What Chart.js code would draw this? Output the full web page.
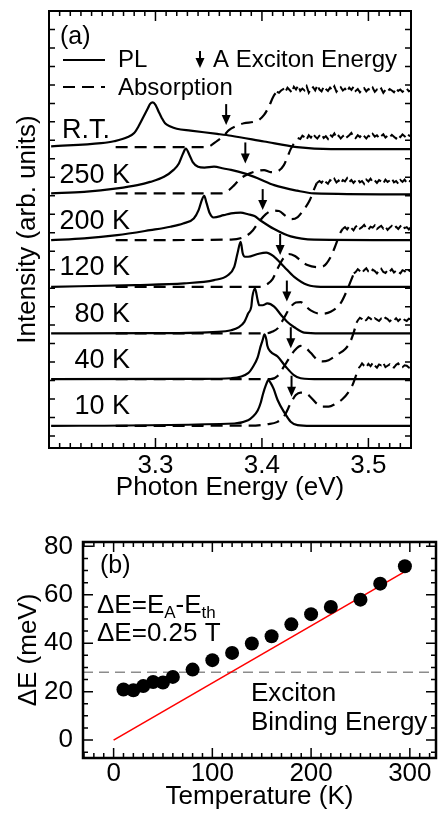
<!DOCTYPE html>
<html>
<head>
<meta charset="utf-8">
<script src="https://cdn.jsdelivr.net/npm/chart.js@4.4.0/dist/chart.umd.min.js"></script>
<style>
  html, body { margin: 0; padding: 0; background: #fff; }
  #wrapA { position: absolute; left: 0; top: 0; width: 443px; height: 510px; }
  #wrapB { position: absolute; left: 0; top: 510px; width: 443px; height: 304px; }
</style>
</head>
<body>
<div id="wrapA"><canvas id="chartA" width="443" height="510"></canvas></div>
<div id="wrapB"><canvas id="chartB" width="443" height="304"></canvas></div>
<script>
// ---------- panel (a): spectra, [photon energy (eV), intensity above its own baseline] ----------
const tempLabels = ['10 K', '40 K', '80 K', '120 K', '200 K', '250 K', 'R.T.'];
const offsets = [0.22, 1.23, 2.22, 3.23, 4.24, 5.23, 6.21];

const pl10 = [[3.202,0],[3.374,0.05],[3.387,0.12],[3.3916,0.2],[3.396,0.33],[3.399,0.51],[3.401,0.69],[3.4037,0.88],[3.406,0.99],[3.4084,0.92],[3.411,0.8],[3.4147,0.56],[3.421,0.29],[3.427,0.09],[3.4334,0.015],[3.446,0],[3.54,0]];
const pl40 = [[3.202,0],[3.343,0.006],[3.371,0.02],[3.387,0.13],[3.3916,0.27],[3.396,0.47],[3.3986,0.7],[3.4007,0.85],[3.4024,0.97],[3.4042,0.85],[3.405,0.73],[3.408,0.6],[3.4147,0.49],[3.4224,0.27],[3.43,0.09],[3.4364,0.02],[3.455,0],[3.54,0]];
const pl80 = [[3.202,0],[3.296,0.006],[3.3586,0.035],[3.371,0.07],[3.378,0.13],[3.3835,0.25],[3.387,0.43],[3.39,0.58],[3.391,0.79],[3.3935,0.97],[3.396,0.72],[3.3975,0.61],[3.4007,0.61],[3.405,0.65],[3.4115,0.58],[3.418,0.4],[3.4234,0.26],[3.43,0.14],[3.4395,0.017],[3.455,0],[3.54,0]];
const pl120 = [[3.202,0],[3.281,0.037],[3.327,0.074],[3.355,0.145],[3.368,0.25],[3.374,0.43],[3.377,0.72],[3.38,0.97],[3.382,0.72],[3.384,0.65],[3.387,0.65],[3.396,0.71],[3.404,0.74],[3.4115,0.65],[3.421,0.43],[3.43,0.22],[3.443,0.037],[3.455,0],[3.54,0]];
const pl200 = [[3.202,0],[3.233,0.037],[3.264,0.108],[3.295,0.216],[3.314,0.29],[3.326,0.36],[3.336,0.47],[3.3405,0.65],[3.3436,0.87],[3.3458,0.96],[3.348,0.8],[3.351,0.58],[3.3545,0.49],[3.364,0.54],[3.371,0.58],[3.38,0.595],[3.387,0.56],[3.393,0.52],[3.399,0.42],[3.4115,0.24],[3.427,0.08],[3.449,0.01],[3.54,0]];
const pl250 = [[3.202,0.022],[3.233,0.056],[3.264,0.13],[3.283,0.2],[3.295,0.27],[3.308,0.38],[3.317,0.53],[3.322,0.67],[3.326,0.89],[3.3285,0.99],[3.332,0.85],[3.335,0.7],[3.34,0.6],[3.346,0.58],[3.355,0.6],[3.364,0.56],[3.371,0.53],[3.3835,0.455],[3.396,0.35],[3.4115,0.2],[3.433,0.08],[3.449,0.022],[3.54,0]];
const plRT = [[3.202,0.06],[3.249,0.13],[3.261,0.17],[3.274,0.26],[3.28,0.35],[3.284,0.49],[3.289,0.71],[3.293,0.89],[3.295,0.98],[3.2975,1.01],[3.3,0.96],[3.303,0.81],[3.306,0.67],[3.309,0.56],[3.314,0.49],[3.32,0.44],[3.333,0.4],[3.358,0.33],[3.371,0.29],[3.402,0.165],[3.433,0.043],[3.465,0],[3.54,0]];

const abs10 = [[3.2626,0],[3.3897,0.004],[3.4053,0.037],[3.414,0.08],[3.4208,0.21],[3.4271,0.49],[3.4318,0.665],[3.4364,0.72],[3.441,0.71],[3.4458,0.62],[3.452,0.47],[3.457,0.416],[3.4626,0.416],[3.4692,0.48],[3.4757,0.58],[3.4813,0.73],[3.485,0.88],[3.4888,1.12],[3.4907,1.25]];
const abs40 = [[3.2626,0],[3.408,0],[3.4147,0.07],[3.4206,0.27],[3.4252,0.44],[3.431,0.63],[3.4364,0.72],[3.441,0.68],[3.4458,0.57],[3.452,0.42],[3.457,0.385],[3.4626,0.41],[3.4707,0.53],[3.4785,0.66],[3.483,0.81],[3.4863,1.02],[3.4888,1.22]];
const abs80 = [[3.2626,0],[3.4037,0],[3.41,0.04],[3.415,0.115],[3.4206,0.33],[3.4262,0.55],[3.4318,0.67],[3.4364,0.68],[3.441,0.59],[3.4458,0.5],[3.455,0.424],[3.4645,0.47],[3.4738,0.65],[3.48,0.94],[3.483,1.11],[3.4863,1.3]];
const abs120 = [[3.2626,0],[3.399,0],[3.405,0.058],[3.41,0.167],[3.415,0.405],[3.4196,0.6],[3.4252,0.71],[3.431,0.665],[3.4364,0.567],[3.4427,0.47],[3.452,0.426],[3.458,0.448],[3.4645,0.643],[3.4692,0.9],[3.473,1.14],[3.4757,1.25]];
const abs200 = [[3.2626,0],[3.371,0.011],[3.385,0.087],[3.3916,0.216],[3.397,0.39],[3.4037,0.563],[3.41,0.64],[3.416,0.63],[3.4224,0.52],[3.428,0.455],[3.4336,0.5],[3.439,0.65],[3.445,0.87],[3.4486,1.08],[3.4514,1.23]];
const abs250 = [[3.2626,0.022],[3.362,0.022],[3.369,0.093],[3.374,0.2],[3.38,0.346],[3.387,0.44],[3.393,0.49],[3.402,0.526],[3.408,0.483],[3.415,0.504],[3.4206,0.634],[3.424,0.814],[3.427,0.98],[3.43,1.1],[3.4336,1.22]];
const absRT = [[3.2626,0.043],[3.348,0.043],[3.358,0.18],[3.364,0.29],[3.369,0.41],[3.376,0.5],[3.383,0.56],[3.392,0.59],[3.397,0.63],[3.402,0.74],[3.4065,0.92],[3.411,1.15],[3.414,1.24]];

// noisy high-energy part of each absorption trace
const noise10 = [[3.4907,1.25],[3.492,1.28],[3.494,1.35],[3.496,1.3],[3.498,1.27],[3.5,1.34],[3.502,1.29],[3.504,1.36],[3.506,1.3],[3.508,1.26],[3.51,1.33],[3.512,1.31],[3.514,1.36],[3.516,1.27],[3.518,1.3],[3.52,1.33],[3.522,1.28],[3.524,1.26],[3.526,1.32],[3.528,1.35],[3.53,1.29],[3.532,1.27],[3.534,1.31],[3.536,1.3],[3.538,1.26],[3.54,1.29]];
const noise40 = [[3.4888,1.22],[3.49,1.27],[3.492,1.33],[3.494,1.3],[3.496,1.25],[3.498,1.28],[3.5,1.34],[3.502,1.31],[3.504,1.27],[3.506,1.32],[3.508,1.29],[3.51,1.26],[3.512,1.31],[3.514,1.28],[3.516,1.33],[3.518,1.3],[3.52,1.25],[3.522,1.29],[3.524,1.27],[3.526,1.32],[3.528,1.26],[3.53,1.3],[3.532,1.33],[3.534,1.28],[3.536,1.26],[3.538,1.31],[3.54,1.29]];
const noise80 = [[3.4863,1.3],[3.488,1.33],[3.49,1.39],[3.492,1.35],[3.494,1.31],[3.496,1.37],[3.498,1.41],[3.5,1.34],[3.502,1.32],[3.504,1.38],[3.506,1.35],[3.508,1.3],[3.51,1.36],[3.512,1.4],[3.514,1.33],[3.516,1.31],[3.518,1.37],[3.52,1.34],[3.522,1.39],[3.524,1.32],[3.526,1.36],[3.528,1.33],[3.53,1.3],[3.532,1.37],[3.534,1.35],[3.536,1.31],[3.538,1.36],[3.54,1.34]];
const noise120 = [[3.4757,1.25],[3.478,1.29],[3.48,1.24],[3.482,1.31],[3.484,1.27],[3.486,1.22],[3.488,1.3],[3.49,1.33],[3.492,1.26],[3.494,1.29],[3.496,1.34],[3.498,1.27],[3.5,1.24],[3.502,1.3],[3.504,1.28],[3.506,1.33],[3.508,1.25],[3.51,1.29],[3.512,1.32],[3.514,1.26],[3.516,1.3],[3.518,1.23],[3.52,1.28],[3.522,1.32],[3.524,1.27],[3.526,1.3],[3.528,1.25],[3.53,1.31],[3.532,1.34],[3.534,1.27],[3.536,1.29],[3.538,1.24],[3.54,1.3]];
const noise200 = [[3.4514,1.23],[3.454,1.28],[3.456,1.24],[3.458,1.31],[3.46,1.26],[3.462,1.22],[3.464,1.3],[3.466,1.27],[3.468,1.33],[3.47,1.25],[3.472,1.29],[3.474,1.23],[3.476,1.3],[3.478,1.27],[3.48,1.34],[3.482,1.26],[3.484,1.3],[3.486,1.24],[3.488,1.29],[3.49,1.32],[3.492,1.25],[3.494,1.28],[3.496,1.22],[3.498,1.31],[3.5,1.27],[3.502,1.33],[3.504,1.26],[3.506,1.29],[3.508,1.24],[3.51,1.3],[3.512,1.27],[3.514,1.23],[3.516,1.31],[3.518,1.26],[3.52,1.29],[3.522,1.33],[3.524,1.25],[3.526,1.28],[3.528,1.22],[3.53,1.3],[3.532,1.26],[3.534,1.31],[3.536,1.24],[3.538,1.28],[3.54,1.27]];
const noise250 = [[3.4336,1.22],[3.436,1.2],[3.438,1.27],[3.44,1.24],[3.442,1.19],[3.444,1.28],[3.446,1.23],[3.448,1.31],[3.45,1.25],[3.452,1.21],[3.454,1.27],[3.456,1.3],[3.458,1.22],[3.46,1.26],[3.462,1.2],[3.464,1.29],[3.466,1.25],[3.468,1.32],[3.47,1.23],[3.472,1.27],[3.474,1.21],[3.476,1.26],[3.478,1.3],[3.48,1.24],[3.482,1.28],[3.484,1.33],[3.486,1.25],[3.488,1.22],[3.49,1.28],[3.492,1.24],[3.494,1.3],[3.496,1.26],[3.498,1.21],[3.5,1.27],[3.502,1.24],[3.504,1.31],[3.506,1.25],[3.508,1.28],[3.51,1.22],[3.512,1.26],[3.514,1.3],[3.516,1.23],[3.518,1.27],[3.52,1.24],[3.522,1.29],[3.524,1.25],[3.526,1.21],[3.528,1.28],[3.53,1.24],[3.532,1.3],[3.534,1.26],[3.536,1.22],[3.538,1.28],[3.54,1.25]];
const noiseRT = [[3.414,1.24],[3.416,1.22],[3.418,1.27],[3.42,1.3],[3.422,1.24],[3.424,1.33],[3.426,1.28],[3.428,1.23],[3.43,1.35],[3.432,1.29],[3.434,1.37],[3.436,1.26],[3.438,1.31],[3.44,1.27],[3.442,1.36],[3.444,1.22],[3.446,1.3],[3.448,1.34],[3.45,1.27],[3.452,1.38],[3.454,1.29],[3.456,1.25],[3.458,1.35],[3.46,1.3],[3.462,1.26],[3.464,1.33],[3.466,1.28],[3.468,1.36],[3.47,1.24],[3.472,1.3],[3.474,1.34],[3.476,1.27],[3.478,1.31],[3.48,1.25],[3.482,1.33],[3.484,1.28],[3.486,1.35],[3.488,1.26],[3.49,1.3],[3.492,1.23],[3.494,1.29],[3.496,1.32],[3.498,1.25],[3.5,1.3],[3.502,1.27],[3.504,1.33],[3.506,1.24],[3.508,1.29],[3.51,1.26],[3.512,1.31],[3.514,1.22],[3.516,1.28],[3.518,1.25],[3.52,1.3],[3.522,1.27],[3.524,1.23],[3.526,1.31],[3.528,1.26],[3.53,1.29],[3.532,1.24],[3.534,1.28],[3.536,1.31],[3.538,1.25],[3.54,1.27]];

// A exciton energy arrows: tip energy and tip height (absolute units)
const arrowE = [3.4278, 3.4271, 3.4234, 3.4171, 3.4007, 3.3844, 3.3664];
const arrowI = [0.85, 1.90, 2.91, 3.92, 4.89, 5.90, 6.73];

const energyTicks = [3.3, 3.4, 3.5];

const plSets = [pl10, pl40, pl80, pl120, pl200, pl250, plRT];
const absSets = [abs10, abs40, abs80, abs120, abs200, abs250, absRT];
const noiseSets = [noise10, noise40, noise80, noise120, noise200, noise250, noiseRT];

// ---------- panel (b) ----------
const temps = [10, 20, 30, 40, 50, 60, 80, 100, 120, 140, 160, 180, 200, 220, 250, 270, 295];
const deltaE = [20.9, 20.6, 22.3, 24.0, 23.8, 26.1, 29.1, 33.0, 36.0, 39.9, 42.9, 47.8, 52.0, 55.0, 58.0, 64.6, 71.8];
const fitT = [0, 301];
const fitE = [0, 71];
const bindingEnergy = 28;
const tempTicks = [0, 100, 200, 300];
const deltaTicks = [0, 20, 40, 60, 80];

const FONT = 'Liberation Sans, Arial, Helvetica, sans-serif';

function boxTicks(chart, s) {
  const { ctx, chartArea: a, scales: { x, y } } = chart;
  ctx.save();
  ctx.strokeStyle = '#000';
  ctx.lineWidth = s.tickWidth;
  ctx.beginPath();
  s.xTicks.forEach(t => {
    const p = x.getPixelForValue(t.v);
    ctx.moveTo(p, a.bottom); ctx.lineTo(p, a.bottom - t.len);
    ctx.moveTo(p, a.top); ctx.lineTo(p, a.top + t.len);
  });
  s.yTicks.forEach(t => {
    const p = y.getPixelForValue(t.v);
    ctx.moveTo(a.left, p); ctx.lineTo(a.left + t.len, p);
    ctx.moveTo(a.right, p); ctx.lineTo(a.right - t.len, p);
  });
  ctx.stroke();
  ctx.lineWidth = s.frame;
  ctx.strokeRect(a.left, a.top, a.right - a.left, a.bottom - a.top);
  ctx.restore();
}

function downArrow(ctx, px, py, len, head, w) {
  ctx.beginPath();
  ctx.moveTo(px, py - len);
  ctx.lineTo(px, py - head + 1);
  ctx.stroke();
  ctx.beginPath();
  ctx.moveTo(px - w / 2, py - head);
  ctx.lineTo(px + w / 2, py - head);
  ctx.lineTo(px, py);
  ctx.closePath();
  ctx.fill();
}

// tick lists (axis decoration)
const aX = [], aY = [];
for (let i = 320; i <= 354; i++) aX.push({ v: i / 100, len: i % 10 === 0 ? 10 : 5 });
for (let i = 0; i <= 23; i++) aY.push({ v: i * 0.4, len: 6 });
const bX = [], bY = [];
for (let t = -30; t <= 320; t += 10) bX.push({ v: t, len: t % 100 === 0 ? 10 : 5 });
for (let e = -5; e <= 80; e += 5) bY.push({ v: e, len: e % 20 === 0 ? 10 : 5 });

const panelA = {
  id: 'panelA',
  afterDraw(chart) {
    const { ctx, scales: { x, y } } = chart;
    boxTicks(chart, { xTicks: aX, yTicks: aY, frame: 2, tickWidth: 1.5 });
    ctx.save();
    ctx.fillStyle = '#000';
    ctx.strokeStyle = '#000';
    ctx.lineWidth = 2;
    arrowE.forEach((e, i) => downArrow(ctx, x.getPixelForValue(e), y.getPixelForValue(arrowI[i]), 21, 10, 9));
    // temperature labels
    ctx.font = '27px ' + FONT;
    ctx.textBaseline = 'middle';
    tempLabels.forEach((t, i) => {
      const py = y.getPixelForValue(offsets[i] + 0.41);
      if (t === 'R.T.') { ctx.textAlign = 'left'; ctx.fillText(t, 62, py); }
      else { ctx.textAlign = 'right'; ctx.fillText(t, 130, py); }
    });
    // panel tag and legend
    ctx.textAlign = 'left';
    ctx.font = '25px ' + FONT;
    ctx.fillText('(a)', 60, 37);
    ctx.font = '24px ' + FONT;
    ctx.fillText('PL', 118, 60);
    ctx.fillText('A Exciton Energy', 213, 60);
    ctx.fillText('Absorption', 118, 88);
    ctx.lineWidth = 2.2;
    ctx.beginPath(); ctx.moveTo(63, 60); ctx.lineTo(105, 60); ctx.stroke();
    ctx.setLineDash([12, 7]);
    ctx.beginPath(); ctx.moveTo(63, 87); ctx.lineTo(105, 87); ctx.stroke();
    ctx.setLineDash([]);
    ctx.lineWidth = 2;
    downArrow(ctx, 200, 68, 17, 10, 9);
    ctx.restore();
  }
};

const datasetsA = [];
absSets.forEach((d, i) => datasetsA.push({
  data: d.map(p => ({ x: p[0], y: p[1] + offsets[i] })),
  borderColor: '#000', borderWidth: 2.2, borderDash: [12, 7],
  pointRadius: 0, showLine: true, cubicInterpolationMode: 'monotone'
}));
noiseSets.forEach((d, i) => datasetsA.push({
  data: d.map(p => ({ x: p[0], y: p[1] + offsets[i] })),
  borderColor: '#000', borderWidth: 2, borderDash: [9, 4],
  pointRadius: 0, showLine: true, tension: 0
}));
plSets.forEach((d, i) => datasetsA.push({
  data: d.map(p => ({ x: p[0], y: p[1] + offsets[i] })),
  borderColor: '#000', borderWidth: 2.2,
  pointRadius: 0, showLine: true, cubicInterpolationMode: 'monotone'
}));

new Chart(document.getElementById('chartA'), {
  type: 'scatter',
  data: { datasets: datasetsA },
  options: {
    responsive: false,
    animation: false,
    events: [],
    layout: { padding: { left: 0, top: 11, right: 32, bottom: 0 } },
    plugins: { legend: { display: false }, tooltip: { enabled: false } },
    scales: {
      x: {
        type: 'linear', min: 3.2, max: 3.54,
        afterBuildTicks: s => { s.ticks = energyTicks.map(v => ({ value: v })); },
        afterFit: s => { s.height = 62; },
        ticks: { color: '#000', font: { family: FONT, size: 26 }, padding: 2, callback: v => v.toFixed(1) },
        grid: { display: false, drawTicks: false },
        border: { display: false },
        title: { display: true, text: 'Photon Energy (eV)', color: '#000', font: { family: FONT, size: 26 }, padding: { top: 0, bottom: 7 } }
      },
      y: {
        type: 'linear', min: -0.26, max: 9.2,
        afterFit: s => { s.width = 49; },
        ticks: { display: false },
        grid: { display: false, drawTicks: false },
        border: { display: false },
        title: { display: true, text: 'Intensity (arb. units)', color: '#000', font: { family: FONT, size: 26 }, padding: { top: 12, bottom: 0 } }
      }
    }
  },
  plugins: [panelA]
});

// ---------- panel (b) chart ----------
const panelB = {
  id: 'panelB',
  beforeDatasetsDraw(chart) {
    const { ctx, chartArea: a, scales: { y } } = chart;
    const py = y.getPixelForValue(bindingEnergy);
    ctx.save();
    ctx.strokeStyle = '#8c8c8c';
    ctx.lineWidth = 1.6;
    ctx.setLineDash([10, 6]);
    ctx.beginPath(); ctx.moveTo(a.left, py); ctx.lineTo(a.right, py); ctx.stroke();
    ctx.restore();
  },
  afterDraw(chart) {
    const { ctx } = chart;
    boxTicks(chart, { xTicks: bX, yTicks: bY, frame: 2.5, tickWidth: 1.5 });
    ctx.save();
    ctx.fillStyle = '#000';
    ctx.textBaseline = 'middle';
    ctx.textAlign = 'left';
    ctx.font = '25px ' + FONT;
    ctx.fillText('(b)', 100, 566 - 510);
    // ΔE=E_A-E_th
    let x0 = 97;
    const yMid = 606 - 510;
    const sub = '17px ' + FONT;
    const main = '26px ' + FONT;
    const parts = [['ΔE=E', main, 0], ['A', sub, 7], ['-E', main, 0], ['th', sub, 7]];
    parts.forEach(p => {
      ctx.font = p[1];
      ctx.fillText(p[0], x0, yMid + p[2]);
      x0 += ctx.measureText(p[0]).width;
    });
    ctx.font = main;
    ctx.fillText('ΔE=0.25 T', 97, 634 - 510);
    ctx.fillText('Exciton', 251, 694 - 510);
    ctx.fillText('Binding Energy', 251, 723 - 510);
    ctx.restore();
  }
};

new Chart(document.getElementById('chartB'), {
  type: 'scatter',
  data: {
    datasets: [
      {
        data: temps.map((t, i) => ({ x: t, y: deltaE[i] })),
        backgroundColor: '#000', borderColor: '#000', pointRadius: 7, pointBorderWidth: 0, showLine: false
      },
      {
        data: fitT.map((t, i) => ({ x: t, y: fitE[i] })),
        borderColor: '#ff0000', borderWidth: 1.6, pointRadius: 0, showLine: true
      }
    ]
  },
  options: {
    responsive: false,
    animation: false,
    events: [],
    layout: { padding: { left: 0, top: 32, right: 1, bottom: 0 } },
    plugins: { legend: { display: false }, tooltip: { enabled: false } },
    scales: {
      x: {
        type: 'linear', min: -31, max: 326.5,
        afterBuildTicks: s => { s.ticks = tempTicks.map(v => ({ value: v })); },
        afterFit: s => { s.height = 56; },
        ticks: { color: '#000', font: { family: FONT, size: 26 }, padding: 0 },
        grid: { display: false, drawTicks: false },
        border: { display: false },
        title: { display: true, text: 'Temperature (K)', color: '#000', font: { family: FONT, size: 26 }, padding: { top: 0, bottom: 2 } }
      },
      y: {
        type: 'linear', min: -7.4, max: 81.8,
        afterBuildTicks: s => { s.ticks = deltaTicks.map(v => ({ value: v })); },
        afterFit: s => { s.width = 83; },
        ticks: { color: '#000', font: { family: FONT, size: 26 }, padding: 10 },
        grid: { display: false, drawTicks: false },
        border: { display: false },
        title: { display: true, text: 'ΔE (meV)', color: '#000', font: { family: FONT, size: 26 }, padding: { top: 13, bottom: 0 } }
      }
    }
  },
  plugins: [panelB]
});
</script>
</body>
</html>
